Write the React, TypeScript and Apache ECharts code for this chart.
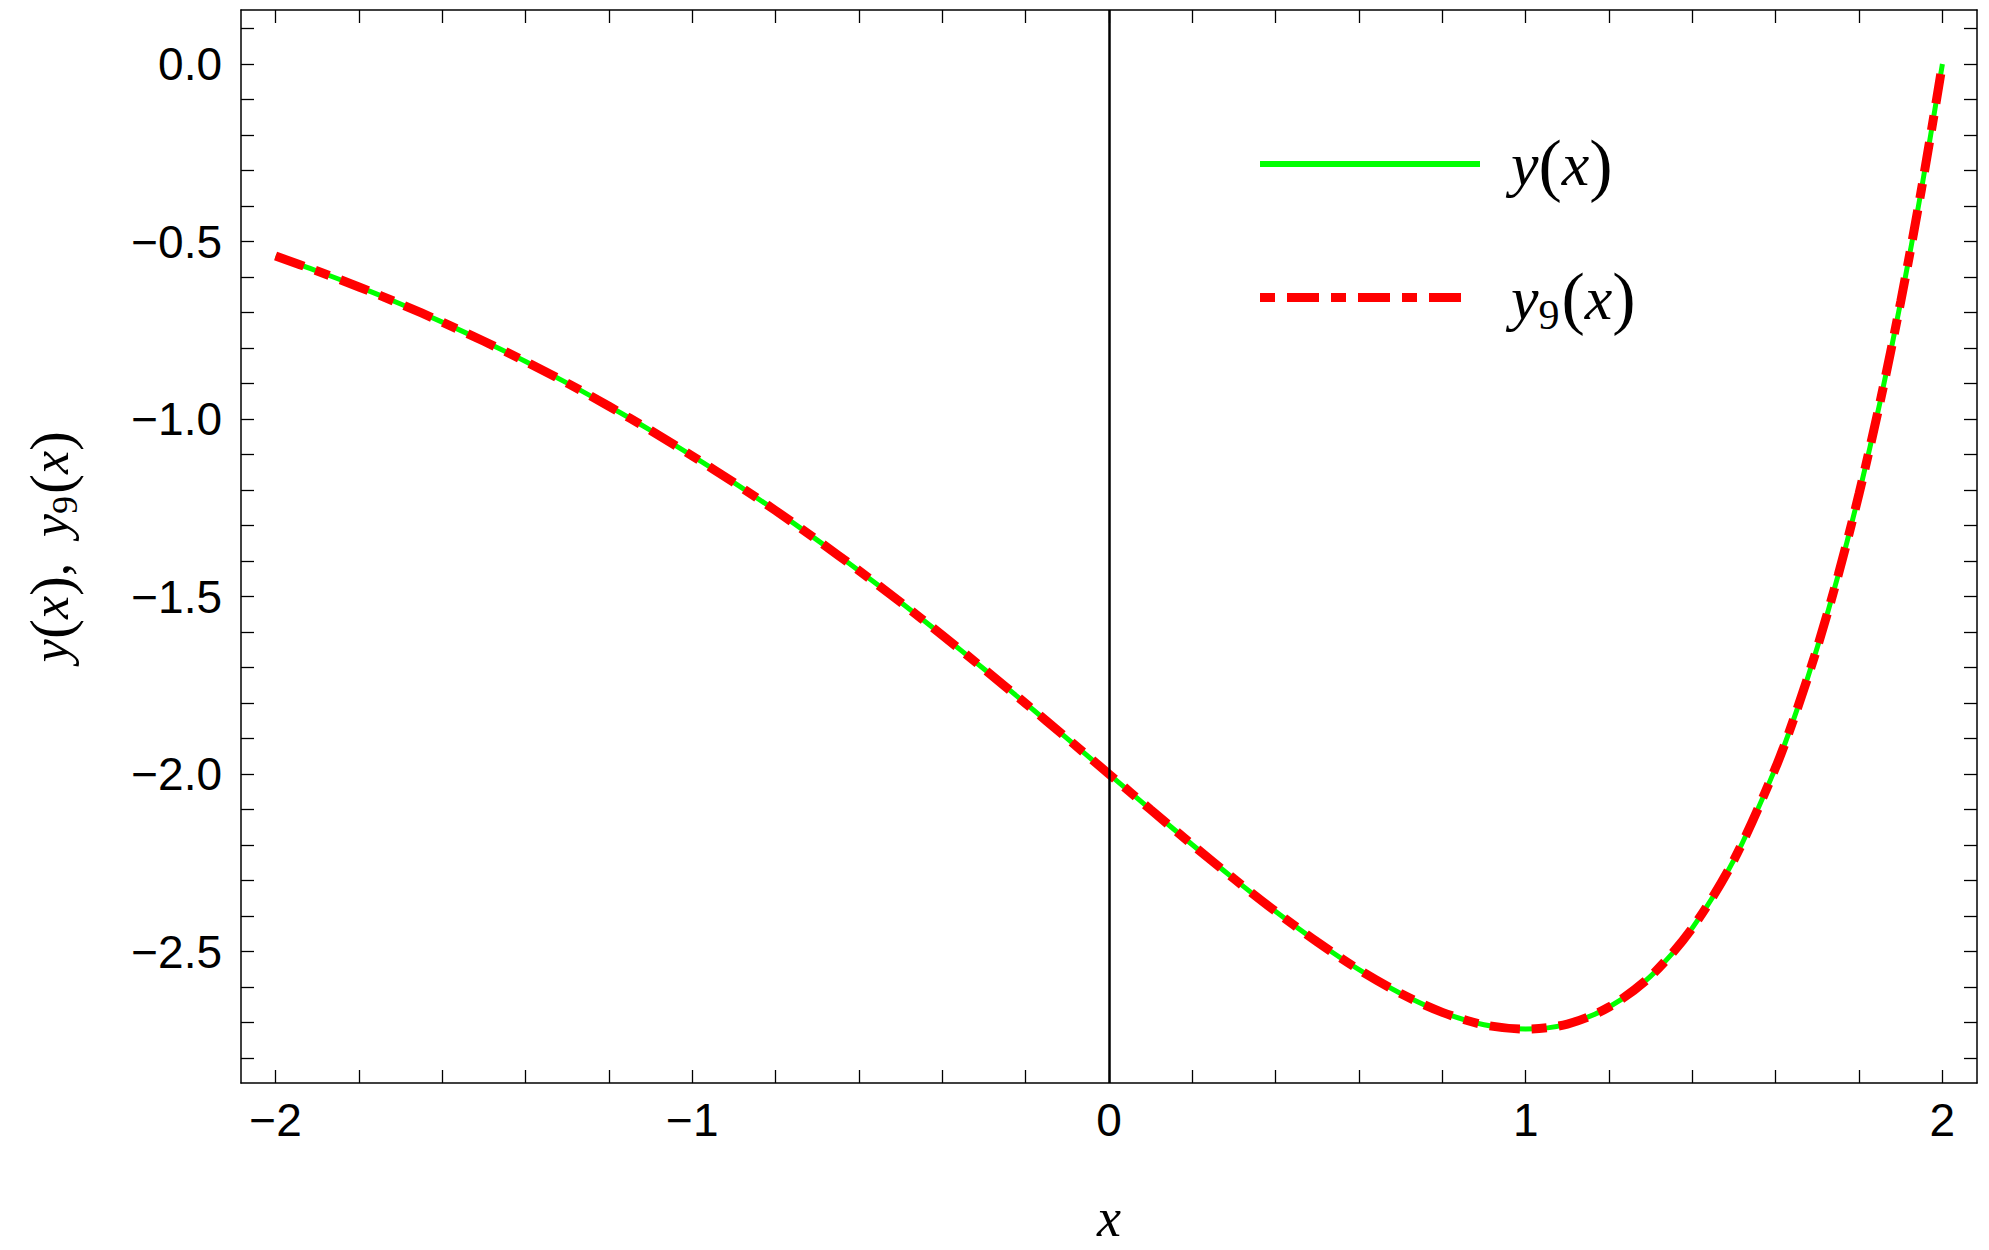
import React, { useEffect, useRef } from 'react';
import * as echarts from 'echarts';

const xValues = [
  -2.0, -1.9, -1.8, -1.7, -1.6, -1.5, -1.4, -1.3, -1.2, -1.1, -1.0,
  -0.9, -0.8, -0.7, -0.6, -0.5, -0.4, -0.3, -0.2, -0.1, 0.0,
  0.1, 0.2, 0.3, 0.4, 0.5, 0.6, 0.7, 0.8, 0.9, 1.0,
  1.1, 1.2, 1.3, 1.4, 1.5, 1.6, 1.65, 1.7, 1.75, 1.8, 1.85, 1.9, 1.95, 2.0,
];
const yValues = [
  -0.541, -0.583, -0.628, -0.676, -0.727, -0.781, -0.838, -0.899, -0.964, -1.032, -1.104,
  -1.179, -1.258, -1.341, -1.427, -1.516, -1.609, -1.704, -1.801, -1.900, -2.000,
  -2.100, -2.199, -2.295, -2.387, -2.473, -2.551, -2.618, -2.671, -2.706, -2.718,
  -2.704, -2.656, -2.569, -2.433, -2.241, -1.981, -1.822, -1.642, -1.439, -1.210, -0.954, -0.669, -0.351, 0.0,
];
const y9Values = [
  -0.541, -0.583, -0.628, -0.676, -0.727, -0.781, -0.838, -0.899, -0.964, -1.032, -1.104,
  -1.179, -1.258, -1.341, -1.427, -1.516, -1.609, -1.704, -1.801, -1.900, -2.000,
  -2.100, -2.199, -2.295, -2.387, -2.473, -2.551, -2.618, -2.671, -2.706, -2.718,
  -2.704, -2.656, -2.569, -2.433, -2.241, -1.981, -1.822, -1.642, -1.439, -1.210, -0.954, -0.669, -0.351, 0.0,
];
const xTickValues = [
  -2, -1.8, -1.6, -1.4, -1.2, -1, -0.8, -0.6, -0.4, -0.2, 0,
  0.2, 0.4, 0.6, 0.8, 1, 1.2, 1.4, 1.6, 1.8, 2,
];
const xLabelValues = [-2, -1, 0, 1, 2];
const yTickValues = [
  -2.8, -2.7, -2.6, -2.5, -2.4, -2.3, -2.2, -2.1, -2.0, -1.9, -1.8, -1.7, -1.6, -1.5,
  -1.4, -1.3, -1.2, -1.1, -1.0, -0.9, -0.8, -0.7, -0.6, -0.5, -0.4, -0.3, -0.2, -0.1, 0.0, 0.1,
];
const yLabelValues = [-2.5, -2.0, -1.5, -1.0, -0.5, 0.0];
const xRange = [-2.083, 2.083];
const yRange = [-2.87, 0.152];

const MATH = '"Liberation Serif", "DejaVu Serif", serif';
const SANS = '"Liberation Sans", Arial, sans-serif';

const GREEN_ICON = 'path://M0 1.5H220V7.5H0Z M0 0L0 9Z M220 0L220 9Z';
const RED_ICON =
  'path://M0 0h15v9H0Z M27 0h32v9H27Z M71 0h15v9H71Z M98 0h32v9H98Z M142 0h15v9H142Z M169 0h32v9H169Z M220 0L220 9Z';

const minus = (s: string) => s.replace('-', '\u2212');

export default function App() {
  const ref = useRef<HTMLDivElement>(null);
  useEffect(() => {
    if (!ref.current) return;
    const chart = echarts.init(ref.current, null, { renderer: 'svg' });
    const legendRich = {
      i: { fontFamily: MATH, fontStyle: 'italic', fontSize: 62, color: '#000', lineHeight: 80 },
      p: { fontFamily: MATH, fontSize: 70, color: '#000', lineHeight: 80 },
      s: { fontFamily: MATH, fontSize: 42, color: '#000', padding: [35, 2, 0, 0], lineHeight: 42 },
    };
    const titleRich = {
      i: { fontFamily: MATH, fontStyle: 'italic', fontSize: 52, color: '#000' },
      p: { fontFamily: MATH, fontSize: 60, color: '#000' },
      g: { fontFamily: MATH, fontSize: 52, color: '#000' },
      s: { fontFamily: MATH, fontSize: 36, color: '#000', padding: [29, 2, 0, 0] },
    };
    const axisCommon = {
      type: 'value',
      splitLine: { show: false },
      axisLine: { show: true, onZero: false, lineStyle: { color: '#000', width: 1.5 } },
    };
    const tickStyle = { color: '#000', width: 1.3 };
    const option: any = {
      animation: false,
      backgroundColor: '#fff',
      grid: { left: 241, right: 12, top: 10, bottom: 166, containLabel: false },
      legend: {
        orient: 'vertical',
        left: 1255,
        top: 124,
        itemWidth: 220,
        itemHeight: 9,
        itemGap: 60,
        symbolKeepAspect: true,
        itemStyle: { borderWidth: 0, borderColor: 'transparent' },
        data: [
          { name: 'y(x)', icon: GREEN_ICON },
          { name: 'y9(x)', icon: RED_ICON },
        ],
        formatter: (name: string) =>
          name === 'y(x)'
            ? '{i|y}{p|(}{i|x}{p|)}'
            : '{i|y}{s|9}{p|(}{i|x}{p|)}',
        textStyle: { padding: [0, 0, 0, 26], rich: legendRich },
      },
      xAxis: [
        {
          ...axisCommon,
          min: xRange[0],
          max: xRange[1],
          position: 'bottom',
          name: 'x',
          nameLocation: 'middle',
          nameGap: 108,
          nameTextStyle: { fontFamily: MATH, fontStyle: 'italic', fontSize: 54, color: '#000' },
          axisTick: { show: true, inside: true, length: 13, customValues: xTickValues, lineStyle: tickStyle },
          axisLabel: {
            show: true,
            customValues: xLabelValues,
            margin: 14,
            fontFamily: SANS,
            fontSize: 46,
            color: '#000',
            formatter: (v: number) => minus(String(v)),
          },
        },
        {
          ...axisCommon,
          min: xRange[0],
          max: xRange[1],
          position: 'top',
          axisTick: { show: true, inside: true, length: 13, customValues: xTickValues, lineStyle: tickStyle },
          axisLabel: { show: false },
        },
      ],
      yAxis: [
        {
          ...axisCommon,
          min: yRange[0],
          max: yRange[1],
          position: 'left',
          name: '{i|y}{p|(}{i|x}{p|)}{g|,  }{i|y}{s|9}{p|(}{i|x}{p|)}',
          nameLocation: 'middle',
          nameRotate: 90,
          nameGap: 158,
          nameTextStyle: { rich: titleRich },
          axisTick: { show: true, inside: true, length: 13, customValues: yTickValues, lineStyle: tickStyle },
          axisLabel: {
            show: true,
            customValues: yLabelValues,
            margin: 19,
            fontFamily: SANS,
            fontSize: 46,
            color: '#000',
            formatter: (v: number) => minus(v.toFixed(1)),
          },
        },
        {
          ...axisCommon,
          min: yRange[0],
          max: yRange[1],
          position: 'right',
          axisTick: { show: true, inside: true, length: 13, customValues: yTickValues, lineStyle: tickStyle },
          axisLabel: { show: false },
        },
      ],
      series: [
        {
          name: 'y(x)',
          type: 'line',
          xAxisIndex: 0,
          yAxisIndex: 0,
          data: xValues.map((x, k) => [x, yValues[k]]),
          smooth: 0.3,
          showSymbol: false,
          symbol: 'none',
          lineStyle: { color: '#00ff00', width: 5 },
          itemStyle: { color: '#00ff00' },
          z: 2,
          markLine: {
            silent: true,
            symbol: ['none', 'none'],
            label: { show: false },
            lineStyle: { color: '#000', width: 2.5, type: 'solid' },
            data: [{ xAxis: 0 }],
          },
        },
        {
          name: 'y9(x)',
          type: 'line',
          xAxisIndex: 0,
          yAxisIndex: 0,
          data: xValues.map((x, k) => [x, y9Values[k]]),
          smooth: 0.3,
          showSymbol: false,
          symbol: 'none',
          lineStyle: { color: '#ff0000', width: 9, type: [30, 12, 15, 12], cap: 'butt' },
          itemStyle: { color: '#ff0000' },
          z: 3,
        },
      ],
    };
    chart.setOption(option);
    return () => chart.dispose();
  }, []);
  return (
    <div
      ref={ref}
      style={{ position: 'fixed', left: 0, top: 0, width: 1989, height: 1250, background: '#fff' }}
    />
  );
}
